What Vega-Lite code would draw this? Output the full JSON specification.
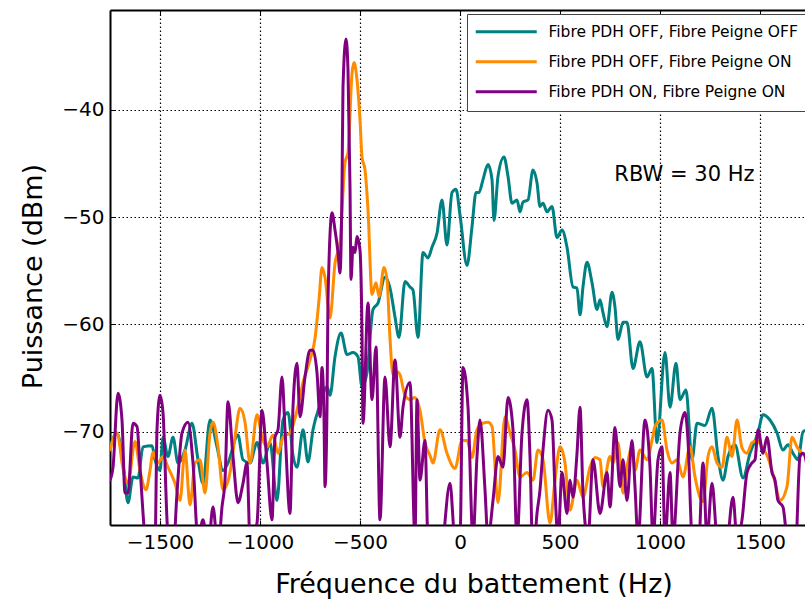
{
"$schema": "https://vega.github.io/schema/vega-lite/v6.json",
"width": 695,
"height": 515,
"autosize": {"type": "none"},
"padding": {"left": 110, "top": 10, "right": 0, "bottom": 77},
"background": "white",
"config": {
  "font": "DejaVu Sans",
  "view": {"stroke": null},
  "axis": {"labelFont": "DejaVu Sans", "titleFont": "DejaVu Sans", "labelColor": "black", "titleColor": "black", "labelFontSize": 20, "titleFontSize": 27, "titleFontWeight": "normal", "domainColor": "black", "domainWidth": 2, "tickColor": "black", "tickWidth": 1, "gridColor": "black", "gridDash": [1.5, 2.5], "gridWidth": 1.2, "gridOpacity": 1}
},
"layer": [
{
  "data": {"values": [
{"series":"Fibre PDH OFF, Fibre Peigne OFF","freq":-1750,"power":-71.4},
{"series":"Fibre PDH OFF, Fibre Peigne OFF","freq":-1715,"power":-70.1},
{"series":"Fibre PDH OFF, Fibre Peigne OFF","freq":-1685,"power":-72.9},
{"series":"Fibre PDH OFF, Fibre Peigne OFF","freq":-1660,"power":-76.6},
{"series":"Fibre PDH OFF, Fibre Peigne OFF","freq":-1635,"power":-74.2},
{"series":"Fibre PDH OFF, Fibre Peigne OFF","freq":-1610,"power":-74.3},
{"series":"Fibre PDH OFF, Fibre Peigne OFF","freq":-1585,"power":-71.4},
{"series":"Fibre PDH OFF, Fibre Peigne OFF","freq":-1540,"power":-71.3},
{"series":"Fibre PDH OFF, Fibre Peigne OFF","freq":-1525,"power":-72.6},
{"series":"Fibre PDH OFF, Fibre Peigne OFF","freq":-1500,"power":-73.6},
{"series":"Fibre PDH OFF, Fibre Peigne OFF","freq":-1485,"power":-70.5},
{"series":"Fibre PDH OFF, Fibre Peigne OFF","freq":-1460,"power":-72.3},
{"series":"Fibre PDH OFF, Fibre Peigne OFF","freq":-1435,"power":-70.5},
{"series":"Fibre PDH OFF, Fibre Peigne OFF","freq":-1410,"power":-72.9},
{"series":"Fibre PDH OFF, Fibre Peigne OFF","freq":-1375,"power":-71.7},
{"series":"Fibre PDH OFF, Fibre Peigne OFF","freq":-1340,"power":-69.2},
{"series":"Fibre PDH OFF, Fibre Peigne OFF","freq":-1310,"power":-72.6},
{"series":"Fibre PDH OFF, Fibre Peigne OFF","freq":-1285,"power":-74.8},
{"series":"Fibre PDH OFF, Fibre Peigne OFF","freq":-1250,"power":-68.9},
{"series":"Fibre PDH OFF, Fibre Peigne OFF","freq":-1215,"power":-71.4},
{"series":"Fibre PDH OFF, Fibre Peigne OFF","freq":-1185,"power":-73.6},
{"series":"Fibre PDH OFF, Fibre Peigne OFF","freq":-1160,"power":-72.9},
{"series":"Fibre PDH OFF, Fibre Peigne OFF","freq":-1110,"power":-70.3},
{"series":"Fibre PDH OFF, Fibre Peigne OFF","freq":-1085,"power":-72.6},
{"series":"Fibre PDH OFF, Fibre Peigne OFF","freq":-1050,"power":-72.9},
{"series":"Fibre PDH OFF, Fibre Peigne OFF","freq":-1015,"power":-71.0},
{"series":"Fibre PDH OFF, Fibre Peigne OFF","freq":-985,"power":-72.9},
{"series":"Fibre PDH OFF, Fibre Peigne OFF","freq":-950,"power":-71.0},
{"series":"Fibre PDH OFF, Fibre Peigne OFF","freq":-915,"power":-76.4},
{"series":"Fibre PDH OFF, Fibre Peigne OFF","freq":-885,"power":-68.9},
{"series":"Fibre PDH OFF, Fibre Peigne OFF","freq":-860,"power":-68.2},
{"series":"Fibre PDH OFF, Fibre Peigne OFF","freq":-835,"power":-72.2},
{"series":"Fibre PDH OFF, Fibre Peigne OFF","freq":-815,"power":-73.3},
{"series":"Fibre PDH OFF, Fibre Peigne OFF","freq":-785,"power":-69.8},
{"series":"Fibre PDH OFF, Fibre Peigne OFF","freq":-760,"power":-72.8},
{"series":"Fibre PDH OFF, Fibre Peigne OFF","freq":-735,"power":-69.8},
{"series":"Fibre PDH OFF, Fibre Peigne OFF","freq":-700,"power":-67.5},
{"series":"Fibre PDH OFF, Fibre Peigne OFF","freq":-665,"power":-65.8},
{"series":"Fibre PDH OFF, Fibre Peigne OFF","freq":-650,"power":-66.6},
{"series":"Fibre PDH OFF, Fibre Peigne OFF","freq":-625,"power":-63.0},
{"series":"Fibre PDH OFF, Fibre Peigne OFF","freq":-595,"power":-60.8},
{"series":"Fibre PDH OFF, Fibre Peigne OFF","freq":-565,"power":-62.8},
{"series":"Fibre PDH OFF, Fibre Peigne OFF","freq":-535,"power":-62.6},
{"series":"Fibre PDH OFF, Fibre Peigne OFF","freq":-510,"power":-63.0},
{"series":"Fibre PDH OFF, Fibre Peigne OFF","freq":-490,"power":-65.8},
{"series":"Fibre PDH OFF, Fibre Peigne OFF","freq":-465,"power":-64.5},
{"series":"Fibre PDH OFF, Fibre Peigne OFF","freq":-435,"power":-58.6},
{"series":"Fibre PDH OFF, Fibre Peigne OFF","freq":-410,"power":-58.0},
{"series":"Fibre PDH OFF, Fibre Peigne OFF","freq":-375,"power":-55.6},
{"series":"Fibre PDH OFF, Fibre Peigne OFF","freq":-350,"power":-56.6},
{"series":"Fibre PDH OFF, Fibre Peigne OFF","freq":-325,"power":-59.3},
{"series":"Fibre PDH OFF, Fibre Peigne OFF","freq":-305,"power":-61.2},
{"series":"Fibre PDH OFF, Fibre Peigne OFF","freq":-275,"power":-56.0},
{"series":"Fibre PDH OFF, Fibre Peigne OFF","freq":-250,"power":-56.5},
{"series":"Fibre PDH OFF, Fibre Peigne OFF","freq":-235,"power":-56.8},
{"series":"Fibre PDH OFF, Fibre Peigne OFF","freq":-210,"power":-61.2},
{"series":"Fibre PDH OFF, Fibre Peigne OFF","freq":-185,"power":-53.3},
{"series":"Fibre PDH OFF, Fibre Peigne OFF","freq":-160,"power":-53.8},
{"series":"Fibre PDH OFF, Fibre Peigne OFF","freq":-140,"power":-52.8},
{"series":"Fibre PDH OFF, Fibre Peigne OFF","freq":-115,"power":-51.5},
{"series":"Fibre PDH OFF, Fibre Peigne OFF","freq":-90,"power":-48.4},
{"series":"Fibre PDH OFF, Fibre Peigne OFF","freq":-65,"power":-52.6},
{"series":"Fibre PDH OFF, Fibre Peigne OFF","freq":-40,"power":-47.7},
{"series":"Fibre PDH OFF, Fibre Peigne OFF","freq":-20,"power":-47.4},
{"series":"Fibre PDH OFF, Fibre Peigne OFF","freq":0,"power":-49.8},
{"series":"Fibre PDH OFF, Fibre Peigne OFF","freq":35,"power":-54.5},
{"series":"Fibre PDH OFF, Fibre Peigne OFF","freq":60,"power":-50.9},
{"series":"Fibre PDH OFF, Fibre Peigne OFF","freq":80,"power":-47.7},
{"series":"Fibre PDH OFF, Fibre Peigne OFF","freq":95,"power":-47.7},
{"series":"Fibre PDH OFF, Fibre Peigne OFF","freq":115,"power":-46.5},
{"series":"Fibre PDH OFF, Fibre Peigne OFF","freq":140,"power":-45.1},
{"series":"Fibre PDH OFF, Fibre Peigne OFF","freq":160,"power":-46.5},
{"series":"Fibre PDH OFF, Fibre Peigne OFF","freq":170,"power":-50.3},
{"series":"Fibre PDH OFF, Fibre Peigne OFF","freq":190,"power":-46.2},
{"series":"Fibre PDH OFF, Fibre Peigne OFF","freq":220,"power":-44.4},
{"series":"Fibre PDH OFF, Fibre Peigne OFF","freq":240,"power":-46.2},
{"series":"Fibre PDH OFF, Fibre Peigne OFF","freq":260,"power":-48.7},
{"series":"Fibre PDH OFF, Fibre Peigne OFF","freq":285,"power":-48.4},
{"series":"Fibre PDH OFF, Fibre Peigne OFF","freq":300,"power":-49.5},
{"series":"Fibre PDH OFF, Fibre Peigne OFF","freq":315,"power":-48.6},
{"series":"Fibre PDH OFF, Fibre Peigne OFF","freq":340,"power":-48.4},
{"series":"Fibre PDH OFF, Fibre Peigne OFF","freq":365,"power":-45.6},
{"series":"Fibre PDH OFF, Fibre Peigne OFF","freq":385,"power":-46.8},
{"series":"Fibre PDH OFF, Fibre Peigne OFF","freq":400,"power":-49.0},
{"series":"Fibre PDH OFF, Fibre Peigne OFF","freq":415,"power":-48.7},
{"series":"Fibre PDH OFF, Fibre Peigne OFF","freq":435,"power":-49.5},
{"series":"Fibre PDH OFF, Fibre Peigne OFF","freq":460,"power":-49.0},
{"series":"Fibre PDH OFF, Fibre Peigne OFF","freq":485,"power":-51.9},
{"series":"Fibre PDH OFF, Fibre Peigne OFF","freq":510,"power":-51.2},
{"series":"Fibre PDH OFF, Fibre Peigne OFF","freq":535,"power":-52.8},
{"series":"Fibre PDH OFF, Fibre Peigne OFF","freq":565,"power":-56.5},
{"series":"Fibre PDH OFF, Fibre Peigne OFF","freq":585,"power":-56.6},
{"series":"Fibre PDH OFF, Fibre Peigne OFF","freq":600,"power":-59.1},
{"series":"Fibre PDH OFF, Fibre Peigne OFF","freq":615,"power":-56.5},
{"series":"Fibre PDH OFF, Fibre Peigne OFF","freq":635,"power":-54.2},
{"series":"Fibre PDH OFF, Fibre Peigne OFF","freq":660,"power":-56.1},
{"series":"Fibre PDH OFF, Fibre Peigne OFF","freq":685,"power":-58.6},
{"series":"Fibre PDH OFF, Fibre Peigne OFF","freq":700,"power":-57.7},
{"series":"Fibre PDH OFF, Fibre Peigne OFF","freq":715,"power":-58.9},
{"series":"Fibre PDH OFF, Fibre Peigne OFF","freq":735,"power":-60.2},
{"series":"Fibre PDH OFF, Fibre Peigne OFF","freq":760,"power":-57.0},
{"series":"Fibre PDH OFF, Fibre Peigne OFF","freq":775,"power":-58.4},
{"series":"Fibre PDH OFF, Fibre Peigne OFF","freq":790,"power":-61.4},
{"series":"Fibre PDH OFF, Fibre Peigne OFF","freq":815,"power":-59.8},
{"series":"Fibre PDH OFF, Fibre Peigne OFF","freq":835,"power":-59.8},
{"series":"Fibre PDH OFF, Fibre Peigne OFF","freq":865,"power":-64.1},
{"series":"Fibre PDH OFF, Fibre Peigne OFF","freq":900,"power":-61.6},
{"series":"Fibre PDH OFF, Fibre Peigne OFF","freq":935,"power":-64.9},
{"series":"Fibre PDH OFF, Fibre Peigne OFF","freq":960,"power":-64.1},
{"series":"Fibre PDH OFF, Fibre Peigne OFF","freq":985,"power":-71.0},
{"series":"Fibre PDH OFF, Fibre Peigne OFF","freq":1025,"power":-62.6},
{"series":"Fibre PDH OFF, Fibre Peigne OFF","freq":1050,"power":-67.7},
{"series":"Fibre PDH OFF, Fibre Peigne OFF","freq":1080,"power":-63.6},
{"series":"Fibre PDH OFF, Fibre Peigne OFF","freq":1100,"power":-67.0},
{"series":"Fibre PDH OFF, Fibre Peigne OFF","freq":1130,"power":-66.1},
{"series":"Fibre PDH OFF, Fibre Peigne OFF","freq":1160,"power":-72.6},
{"series":"Fibre PDH OFF, Fibre Peigne OFF","freq":1185,"power":-69.2},
{"series":"Fibre PDH OFF, Fibre Peigne OFF","freq":1225,"power":-69.4},
{"series":"Fibre PDH OFF, Fibre Peigne OFF","freq":1260,"power":-67.8},
{"series":"Fibre PDH OFF, Fibre Peigne OFF","freq":1290,"power":-72.3},
{"series":"Fibre PDH OFF, Fibre Peigne OFF","freq":1315,"power":-74.5},
{"series":"Fibre PDH OFF, Fibre Peigne OFF","freq":1340,"power":-72.3},
{"series":"Fibre PDH OFF, Fibre Peigne OFF","freq":1375,"power":-71.2},
{"series":"Fibre PDH OFF, Fibre Peigne OFF","freq":1415,"power":-74.3},
{"series":"Fibre PDH OFF, Fibre Peigne OFF","freq":1450,"power":-72.0},
{"series":"Fibre PDH OFF, Fibre Peigne OFF","freq":1490,"power":-70.1},
{"series":"Fibre PDH OFF, Fibre Peigne OFF","freq":1515,"power":-68.4},
{"series":"Fibre PDH OFF, Fibre Peigne OFF","freq":1550,"power":-68.9},
{"series":"Fibre PDH OFF, Fibre Peigne OFF","freq":1585,"power":-70.1},
{"series":"Fibre PDH OFF, Fibre Peigne OFF","freq":1615,"power":-71.7},
{"series":"Fibre PDH OFF, Fibre Peigne OFF","freq":1640,"power":-71.2},
{"series":"Fibre PDH OFF, Fibre Peigne OFF","freq":1665,"power":-72.0},
{"series":"Fibre PDH OFF, Fibre Peigne OFF","freq":1690,"power":-72.6},
{"series":"Fibre PDH OFF, Fibre Peigne OFF","freq":1715,"power":-70.0},
{"series":"Fibre PDH OFF, Fibre Peigne OFF","freq":1740,"power":-69.8},
{"series":"Fibre PDH OFF, Fibre Peigne ON","freq":-1750,"power":-71.7},
{"series":"Fibre PDH OFF, Fibre Peigne ON","freq":-1715,"power":-70.1},
{"series":"Fibre PDH OFF, Fibre Peigne ON","freq":-1685,"power":-73.4},
{"series":"Fibre PDH OFF, Fibre Peigne ON","freq":-1660,"power":-74.8},
{"series":"Fibre PDH OFF, Fibre Peigne ON","freq":-1625,"power":-70.9},
{"series":"Fibre PDH OFF, Fibre Peigne ON","freq":-1600,"power":-73.6},
{"series":"Fibre PDH OFF, Fibre Peigne ON","freq":-1570,"power":-75.4},
{"series":"Fibre PDH OFF, Fibre Peigne ON","freq":-1550,"power":-73.6},
{"series":"Fibre PDH OFF, Fibre Peigne ON","freq":-1535,"power":-71.9},
{"series":"Fibre PDH OFF, Fibre Peigne ON","freq":-1510,"power":-72.9},
{"series":"Fibre PDH OFF, Fibre Peigne ON","freq":-1485,"power":-72.3},
{"series":"Fibre PDH OFF, Fibre Peigne ON","freq":-1460,"power":-73.3},
{"series":"Fibre PDH OFF, Fibre Peigne ON","freq":-1425,"power":-74.8},
{"series":"Fibre PDH OFF, Fibre Peigne ON","freq":-1400,"power":-76.4},
{"series":"Fibre PDH OFF, Fibre Peigne ON","freq":-1375,"power":-71.7},
{"series":"Fibre PDH OFF, Fibre Peigne ON","freq":-1350,"power":-76.8},
{"series":"Fibre PDH OFF, Fibre Peigne ON","freq":-1325,"power":-72.9},
{"series":"Fibre PDH OFF, Fibre Peigne ON","freq":-1300,"power":-72.6},
{"series":"Fibre PDH OFF, Fibre Peigne ON","freq":-1275,"power":-75.7},
{"series":"Fibre PDH OFF, Fibre Peigne ON","freq":-1250,"power":-70.1},
{"series":"Fibre PDH OFF, Fibre Peigne ON","freq":-1235,"power":-69.1},
{"series":"Fibre PDH OFF, Fibre Peigne ON","freq":-1210,"power":-71.4},
{"series":"Fibre PDH OFF, Fibre Peigne ON","freq":-1185,"power":-75.4},
{"series":"Fibre PDH OFF, Fibre Peigne ON","freq":-1150,"power":-73.8},
{"series":"Fibre PDH OFF, Fibre Peigne ON","freq":-1125,"power":-70.5},
{"series":"Fibre PDH OFF, Fibre Peigne ON","freq":-1100,"power":-67.8},
{"series":"Fibre PDH OFF, Fibre Peigne ON","freq":-1075,"power":-69.1},
{"series":"Fibre PDH OFF, Fibre Peigne ON","freq":-1050,"power":-72.9},
{"series":"Fibre PDH OFF, Fibre Peigne ON","freq":-1015,"power":-68.4},
{"series":"Fibre PDH OFF, Fibre Peigne ON","freq":-990,"power":-70.5},
{"series":"Fibre PDH OFF, Fibre Peigne ON","freq":-965,"power":-71.4},
{"series":"Fibre PDH OFF, Fibre Peigne ON","freq":-935,"power":-70.3},
{"series":"Fibre PDH OFF, Fibre Peigne ON","freq":-910,"power":-72.0},
{"series":"Fibre PDH OFF, Fibre Peigne ON","freq":-885,"power":-70.5},
{"series":"Fibre PDH OFF, Fibre Peigne ON","freq":-850,"power":-70.1},
{"series":"Fibre PDH OFF, Fibre Peigne ON","freq":-815,"power":-68.0},
{"series":"Fibre PDH OFF, Fibre Peigne ON","freq":-785,"power":-65.4},
{"series":"Fibre PDH OFF, Fibre Peigne ON","freq":-750,"power":-63.3},
{"series":"Fibre PDH OFF, Fibre Peigne ON","freq":-725,"power":-61.3},
{"series":"Fibre PDH OFF, Fibre Peigne ON","freq":-705,"power":-57.7},
{"series":"Fibre PDH OFF, Fibre Peigne ON","freq":-690,"power":-54.7},
{"series":"Fibre PDH OFF, Fibre Peigne ON","freq":-675,"power":-55.6},
{"series":"Fibre PDH OFF, Fibre Peigne ON","freq":-650,"power":-59.4},
{"series":"Fibre PDH OFF, Fibre Peigne ON","freq":-625,"power":-54.3},
{"series":"Fibre PDH OFF, Fibre Peigne ON","freq":-600,"power":-52.4},
{"series":"Fibre PDH OFF, Fibre Peigne ON","freq":-575,"power":-44.9},
{"series":"Fibre PDH OFF, Fibre Peigne ON","freq":-560,"power":-44.0},
{"series":"Fibre PDH OFF, Fibre Peigne ON","freq":-540,"power":-36.6},
{"series":"Fibre PDH OFF, Fibre Peigne ON","freq":-530,"power":-35.6},
{"series":"Fibre PDH OFF, Fibre Peigne ON","freq":-515,"power":-37.2},
{"series":"Fibre PDH OFF, Fibre Peigne ON","freq":-500,"power":-40.9},
{"series":"Fibre PDH OFF, Fibre Peigne ON","freq":-490,"power":-44.4},
{"series":"Fibre PDH OFF, Fibre Peigne ON","freq":-475,"power":-45.6},
{"series":"Fibre PDH OFF, Fibre Peigne ON","freq":-460,"power":-49.3},
{"series":"Fibre PDH OFF, Fibre Peigne ON","freq":-440,"power":-57.2},
{"series":"Fibre PDH OFF, Fibre Peigne ON","freq":-420,"power":-56.1},
{"series":"Fibre PDH OFF, Fibre Peigne ON","freq":-405,"power":-57.4},
{"series":"Fibre PDH OFF, Fibre Peigne ON","freq":-380,"power":-54.7},
{"series":"Fibre PDH OFF, Fibre Peigne ON","freq":-365,"power":-55.8},
{"series":"Fibre PDH OFF, Fibre Peigne ON","freq":-350,"power":-61.3},
{"series":"Fibre PDH OFF, Fibre Peigne ON","freq":-335,"power":-64.7},
{"series":"Fibre PDH OFF, Fibre Peigne ON","freq":-315,"power":-64.4},
{"series":"Fibre PDH OFF, Fibre Peigne ON","freq":-300,"power":-64.7},
{"series":"Fibre PDH OFF, Fibre Peigne ON","freq":-275,"power":-66.6},
{"series":"Fibre PDH OFF, Fibre Peigne ON","freq":-250,"power":-67.0},
{"series":"Fibre PDH OFF, Fibre Peigne ON","freq":-225,"power":-66.8},
{"series":"Fibre PDH OFF, Fibre Peigne ON","freq":-200,"power":-68.0},
{"series":"Fibre PDH OFF, Fibre Peigne ON","freq":-175,"power":-71.0},
{"series":"Fibre PDH OFF, Fibre Peigne ON","freq":-150,"power":-72.2},
{"series":"Fibre PDH OFF, Fibre Peigne ON","freq":-135,"power":-72.9},
{"series":"Fibre PDH OFF, Fibre Peigne ON","freq":-100,"power":-69.8},
{"series":"Fibre PDH OFF, Fibre Peigne ON","freq":-65,"power":-72.0},
{"series":"Fibre PDH OFF, Fibre Peigne ON","freq":-25,"power":-73.4},
{"series":"Fibre PDH OFF, Fibre Peigne ON","freq":10,"power":-70.8},
{"series":"Fibre PDH OFF, Fibre Peigne ON","freq":35,"power":-70.8},
{"series":"Fibre PDH OFF, Fibre Peigne ON","freq":60,"power":-72.4},
{"series":"Fibre PDH OFF, Fibre Peigne ON","freq":85,"power":-69.8},
{"series":"Fibre PDH OFF, Fibre Peigne ON","freq":115,"power":-69.2},
{"series":"Fibre PDH OFF, Fibre Peigne ON","freq":140,"power":-69.1},
{"series":"Fibre PDH OFF, Fibre Peigne ON","freq":160,"power":-69.5},
{"series":"Fibre PDH OFF, Fibre Peigne ON","freq":190,"power":-76.6},
{"series":"Fibre PDH OFF, Fibre Peigne ON","freq":225,"power":-68.6},
{"series":"Fibre PDH OFF, Fibre Peigne ON","freq":250,"power":-70.1},
{"series":"Fibre PDH OFF, Fibre Peigne ON","freq":275,"power":-71.7},
{"series":"Fibre PDH OFF, Fibre Peigne ON","freq":300,"power":-74.2},
{"series":"Fibre PDH OFF, Fibre Peigne ON","freq":335,"power":-73.8},
{"series":"Fibre PDH OFF, Fibre Peigne ON","freq":365,"power":-74.5},
{"series":"Fibre PDH OFF, Fibre Peigne ON","freq":390,"power":-71.7},
{"series":"Fibre PDH OFF, Fibre Peigne ON","freq":415,"power":-72.6},
{"series":"Fibre PDH OFF, Fibre Peigne ON","freq":450,"power":-78.5},
{"series":"Fibre PDH OFF, Fibre Peigne ON","freq":475,"power":-74.5},
{"series":"Fibre PDH OFF, Fibre Peigne ON","freq":500,"power":-71.4},
{"series":"Fibre PDH OFF, Fibre Peigne ON","freq":525,"power":-72.9},
{"series":"Fibre PDH OFF, Fibre Peigne ON","freq":550,"power":-77.3},
{"series":"Fibre PDH OFF, Fibre Peigne ON","freq":585,"power":-74.5},
{"series":"Fibre PDH OFF, Fibre Peigne ON","freq":615,"power":-76.1},
{"series":"Fibre PDH OFF, Fibre Peigne ON","freq":650,"power":-73.3},
{"series":"Fibre PDH OFF, Fibre Peigne ON","freq":675,"power":-72.4},
{"series":"Fibre PDH OFF, Fibre Peigne ON","freq":700,"power":-72.6},
{"series":"Fibre PDH OFF, Fibre Peigne ON","freq":715,"power":-75.1},
{"series":"Fibre PDH OFF, Fibre Peigne ON","freq":750,"power":-72.3},
{"series":"Fibre PDH OFF, Fibre Peigne ON","freq":765,"power":-72.9},
{"series":"Fibre PDH OFF, Fibre Peigne ON","freq":790,"power":-71.0},
{"series":"Fibre PDH OFF, Fibre Peigne ON","freq":815,"power":-75.7},
{"series":"Fibre PDH OFF, Fibre Peigne ON","freq":835,"power":-73.3},
{"series":"Fibre PDH OFF, Fibre Peigne ON","freq":860,"power":-71.4},
{"series":"Fibre PDH OFF, Fibre Peigne ON","freq":875,"power":-73.6},
{"series":"Fibre PDH OFF, Fibre Peigne ON","freq":900,"power":-71.7},
{"series":"Fibre PDH OFF, Fibre Peigne ON","freq":935,"power":-72.6},
{"series":"Fibre PDH OFF, Fibre Peigne ON","freq":960,"power":-70.8},
{"series":"Fibre PDH OFF, Fibre Peigne ON","freq":975,"power":-69.5},
{"series":"Fibre PDH OFF, Fibre Peigne ON","freq":1010,"power":-68.9},
{"series":"Fibre PDH OFF, Fibre Peigne ON","freq":1035,"power":-71.7},
{"series":"Fibre PDH OFF, Fibre Peigne ON","freq":1060,"power":-72.9},
{"series":"Fibre PDH OFF, Fibre Peigne ON","freq":1085,"power":-72.6},
{"series":"Fibre PDH OFF, Fibre Peigne ON","freq":1115,"power":-74.2},
{"series":"Fibre PDH OFF, Fibre Peigne ON","freq":1150,"power":-71.4},
{"series":"Fibre PDH OFF, Fibre Peigne ON","freq":1175,"power":-74.2},
{"series":"Fibre PDH OFF, Fibre Peigne ON","freq":1200,"power":-76.1},
{"series":"Fibre PDH OFF, Fibre Peigne ON","freq":1215,"power":-76.5},
{"series":"Fibre PDH OFF, Fibre Peigne ON","freq":1240,"power":-72.3},
{"series":"Fibre PDH OFF, Fibre Peigne ON","freq":1260,"power":-71.4},
{"series":"Fibre PDH OFF, Fibre Peigne ON","freq":1285,"power":-72.9},
{"series":"Fibre PDH OFF, Fibre Peigne ON","freq":1310,"power":-73.3},
{"series":"Fibre PDH OFF, Fibre Peigne ON","freq":1335,"power":-70.5},
{"series":"Fibre PDH OFF, Fibre Peigne ON","freq":1360,"power":-72.3},
{"series":"Fibre PDH OFF, Fibre Peigne ON","freq":1385,"power":-68.9},
{"series":"Fibre PDH OFF, Fibre Peigne ON","freq":1410,"power":-71.5},
{"series":"Fibre PDH OFF, Fibre Peigne ON","freq":1435,"power":-72.0},
{"series":"Fibre PDH OFF, Fibre Peigne ON","freq":1460,"power":-71.0},
{"series":"Fibre PDH OFF, Fibre Peigne ON","freq":1485,"power":-70.8},
{"series":"Fibre PDH OFF, Fibre Peigne ON","freq":1510,"power":-71.4},
{"series":"Fibre PDH OFF, Fibre Peigne ON","freq":1540,"power":-72.4},
{"series":"Fibre PDH OFF, Fibre Peigne ON","freq":1575,"power":-74.7},
{"series":"Fibre PDH OFF, Fibre Peigne ON","freq":1600,"power":-76.4},
{"series":"Fibre PDH OFF, Fibre Peigne ON","freq":1635,"power":-75.1},
{"series":"Fibre PDH OFF, Fibre Peigne ON","freq":1660,"power":-70.5},
{"series":"Fibre PDH OFF, Fibre Peigne ON","freq":1685,"power":-71.4},
{"series":"Fibre PDH OFF, Fibre Peigne ON","freq":1710,"power":-72.0},
{"series":"Fibre PDH OFF, Fibre Peigne ON","freq":1740,"power":-72.3},
{"series":"Fibre PDH ON, Fibre Peigne ON","freq":-1750,"power":-74.5},
{"series":"Fibre PDH ON, Fibre Peigne ON","freq":-1735,"power":-73.3},
{"series":"Fibre PDH ON, Fibre Peigne ON","freq":-1710,"power":-66.4},
{"series":"Fibre PDH ON, Fibre Peigne ON","freq":-1690,"power":-68.9},
{"series":"Fibre PDH ON, Fibre Peigne ON","freq":-1675,"power":-75.7},
{"series":"Fibre PDH ON, Fibre Peigne ON","freq":-1660,"power":-75.7},
{"series":"Fibre PDH ON, Fibre Peigne ON","freq":-1635,"power":-69.2},
{"series":"Fibre PDH ON, Fibre Peigne ON","freq":-1615,"power":-69.5},
{"series":"Fibre PDH ON, Fibre Peigne ON","freq":-1600,"power":-73.3},
{"series":"Fibre PDH ON, Fibre Peigne ON","freq":-1575,"power":-80},
{"series":"Fibre PDH ON, Fibre Peigne ON","freq":-1550,"power":-83},
{"series":"Fibre PDH ON, Fibre Peigne ON","freq":-1525,"power":-81},
{"series":"Fibre PDH ON, Fibre Peigne ON","freq":-1515,"power":-69.8},
{"series":"Fibre PDH ON, Fibre Peigne ON","freq":-1500,"power":-66.6},
{"series":"Fibre PDH ON, Fibre Peigne ON","freq":-1485,"power":-68.2},
{"series":"Fibre PDH ON, Fibre Peigne ON","freq":-1465,"power":-78.2},
{"series":"Fibre PDH ON, Fibre Peigne ON","freq":-1440,"power":-83},
{"series":"Fibre PDH ON, Fibre Peigne ON","freq":-1415,"power":-75.7},
{"series":"Fibre PDH ON, Fibre Peigne ON","freq":-1390,"power":-70.1},
{"series":"Fibre PDH ON, Fibre Peigne ON","freq":-1360,"power":-69.1},
{"series":"Fibre PDH ON, Fibre Peigne ON","freq":-1335,"power":-72.9},
{"series":"Fibre PDH ON, Fibre Peigne ON","freq":-1310,"power":-80},
{"series":"Fibre PDH ON, Fibre Peigne ON","freq":-1285,"power":-78.2},
{"series":"Fibre PDH ON, Fibre Peigne ON","freq":-1260,"power":-81},
{"series":"Fibre PDH ON, Fibre Peigne ON","freq":-1235,"power":-77.0},
{"series":"Fibre PDH ON, Fibre Peigne ON","freq":-1210,"power":-81},
{"series":"Fibre PDH ON, Fibre Peigne ON","freq":-1190,"power":-77.0},
{"series":"Fibre PDH ON, Fibre Peigne ON","freq":-1175,"power":-74.5},
{"series":"Fibre PDH ON, Fibre Peigne ON","freq":-1160,"power":-67.2},
{"series":"Fibre PDH ON, Fibre Peigne ON","freq":-1135,"power":-72.3},
{"series":"Fibre PDH ON, Fibre Peigne ON","freq":-1110,"power":-76.6},
{"series":"Fibre PDH ON, Fibre Peigne ON","freq":-1085,"power":-74.8},
{"series":"Fibre PDH ON, Fibre Peigne ON","freq":-1065,"power":-72.9},
{"series":"Fibre PDH ON, Fibre Peigne ON","freq":-1050,"power":-80},
{"series":"Fibre PDH ON, Fibre Peigne ON","freq":-1015,"power":-78.5},
{"series":"Fibre PDH ON, Fibre Peigne ON","freq":-990,"power":-68.0},
{"series":"Fibre PDH ON, Fibre Peigne ON","freq":-965,"power":-72.9},
{"series":"Fibre PDH ON, Fibre Peigne ON","freq":-940,"power":-78.2},
{"series":"Fibre PDH ON, Fibre Peigne ON","freq":-925,"power":-70.5},
{"series":"Fibre PDH ON, Fibre Peigne ON","freq":-910,"power":-69.8},
{"series":"Fibre PDH ON, Fibre Peigne ON","freq":-890,"power":-64.9},
{"series":"Fibre PDH ON, Fibre Peigne ON","freq":-875,"power":-69.8},
{"series":"Fibre PDH ON, Fibre Peigne ON","freq":-850,"power":-77.6},
{"series":"Fibre PDH ON, Fibre Peigne ON","freq":-835,"power":-67.7},
{"series":"Fibre PDH ON, Fibre Peigne ON","freq":-815,"power":-63.6},
{"series":"Fibre PDH ON, Fibre Peigne ON","freq":-800,"power":-68.6},
{"series":"Fibre PDH ON, Fibre Peigne ON","freq":-775,"power":-64.9},
{"series":"Fibre PDH ON, Fibre Peigne ON","freq":-750,"power":-62.4},
{"series":"Fibre PDH ON, Fibre Peigne ON","freq":-735,"power":-62.4},
{"series":"Fibre PDH ON, Fibre Peigne ON","freq":-715,"power":-64.5},
{"series":"Fibre PDH ON, Fibre Peigne ON","freq":-700,"power":-68.6},
{"series":"Fibre PDH ON, Fibre Peigne ON","freq":-690,"power":-64.0},
{"series":"Fibre PDH ON, Fibre Peigne ON","freq":-680,"power":-68.6},
{"series":"Fibre PDH ON, Fibre Peigne ON","freq":-675,"power":-75.1},
{"series":"Fibre PDH ON, Fibre Peigne ON","freq":-665,"power":-67.7},
{"series":"Fibre PDH ON, Fibre Peigne ON","freq":-660,"power":-57.7},
{"series":"Fibre PDH ON, Fibre Peigne ON","freq":-640,"power":-49.6},
{"series":"Fibre PDH ON, Fibre Peigne ON","freq":-625,"power":-51.2},
{"series":"Fibre PDH ON, Fibre Peigne ON","freq":-610,"power":-53.3},
{"series":"Fibre PDH ON, Fibre Peigne ON","freq":-600,"power":-55.2},
{"series":"Fibre PDH ON, Fibre Peigne ON","freq":-590,"power":-47.2},
{"series":"Fibre PDH ON, Fibre Peigne ON","freq":-585,"power":-37.9},
{"series":"Fibre PDH ON, Fibre Peigne ON","freq":-570,"power":-33.4},
{"series":"Fibre PDH ON, Fibre Peigne ON","freq":-560,"power":-36.3},
{"series":"Fibre PDH ON, Fibre Peigne ON","freq":-550,"power":-47.2},
{"series":"Fibre PDH ON, Fibre Peigne ON","freq":-545,"power":-55.8},
{"series":"Fibre PDH ON, Fibre Peigne ON","freq":-535,"power":-52.8},
{"series":"Fibre PDH ON, Fibre Peigne ON","freq":-525,"power":-53.3},
{"series":"Fibre PDH ON, Fibre Peigne ON","freq":-515,"power":-51.8},
{"series":"Fibre PDH ON, Fibre Peigne ON","freq":-500,"power":-53.1},
{"series":"Fibre PDH ON, Fibre Peigne ON","freq":-490,"power":-60.8},
{"series":"Fibre PDH ON, Fibre Peigne ON","freq":-485,"power":-69.2},
{"series":"Fibre PDH ON, Fibre Peigne ON","freq":-460,"power":-58.0},
{"series":"Fibre PDH ON, Fibre Peigne ON","freq":-440,"power":-67.0},
{"series":"Fibre PDH ON, Fibre Peigne ON","freq":-420,"power":-62.1},
{"series":"Fibre PDH ON, Fibre Peigne ON","freq":-400,"power":-78.2},
{"series":"Fibre PDH ON, Fibre Peigne ON","freq":-375,"power":-64.9},
{"series":"Fibre PDH ON, Fibre Peigne ON","freq":-350,"power":-71.4},
{"series":"Fibre PDH ON, Fibre Peigne ON","freq":-325,"power":-63.3},
{"series":"Fibre PDH ON, Fibre Peigne ON","freq":-300,"power":-70.5},
{"series":"Fibre PDH ON, Fibre Peigne ON","freq":-285,"power":-67.7},
{"series":"Fibre PDH ON, Fibre Peigne ON","freq":-250,"power":-65.4},
{"series":"Fibre PDH ON, Fibre Peigne ON","freq":-225,"power":-80},
{"series":"Fibre PDH ON, Fibre Peigne ON","freq":-215,"power":-67.0},
{"series":"Fibre PDH ON, Fibre Peigne ON","freq":-200,"power":-74.5},
{"series":"Fibre PDH ON, Fibre Peigne ON","freq":-175,"power":-70.8},
{"series":"Fibre PDH ON, Fibre Peigne ON","freq":-160,"power":-80},
{"series":"Fibre PDH ON, Fibre Peigne ON","freq":-125,"power":-80},
{"series":"Fibre PDH ON, Fibre Peigne ON","freq":-100,"power":-82},
{"series":"Fibre PDH ON, Fibre Peigne ON","freq":-50,"power":-74.8},
{"series":"Fibre PDH ON, Fibre Peigne ON","freq":-25,"power":-80},
{"series":"Fibre PDH ON, Fibre Peigne ON","freq":0,"power":-80},
{"series":"Fibre PDH ON, Fibre Peigne ON","freq":15,"power":-64.0},
{"series":"Fibre PDH ON, Fibre Peigne ON","freq":40,"power":-67.7},
{"series":"Fibre PDH ON, Fibre Peigne ON","freq":65,"power":-80},
{"series":"Fibre PDH ON, Fibre Peigne ON","freq":85,"power":-72.3},
{"series":"Fibre PDH ON, Fibre Peigne ON","freq":100,"power":-68.9},
{"series":"Fibre PDH ON, Fibre Peigne ON","freq":125,"power":-75.4},
{"series":"Fibre PDH ON, Fibre Peigne ON","freq":140,"power":-80},
{"series":"Fibre PDH ON, Fibre Peigne ON","freq":165,"power":-76.4},
{"series":"Fibre PDH ON, Fibre Peigne ON","freq":190,"power":-72.3},
{"series":"Fibre PDH ON, Fibre Peigne ON","freq":215,"power":-73.3},
{"series":"Fibre PDH ON, Fibre Peigne ON","freq":240,"power":-66.8},
{"series":"Fibre PDH ON, Fibre Peigne ON","freq":265,"power":-69.8},
{"series":"Fibre PDH ON, Fibre Peigne ON","freq":285,"power":-80},
{"series":"Fibre PDH ON, Fibre Peigne ON","freq":310,"power":-70.1},
{"series":"Fibre PDH ON, Fibre Peigne ON","freq":335,"power":-67.0},
{"series":"Fibre PDH ON, Fibre Peigne ON","freq":350,"power":-72.3},
{"series":"Fibre PDH ON, Fibre Peigne ON","freq":365,"power":-82},
{"series":"Fibre PDH ON, Fibre Peigne ON","freq":385,"power":-77.6},
{"series":"Fibre PDH ON, Fibre Peigne ON","freq":400,"power":-75.4},
{"series":"Fibre PDH ON, Fibre Peigne ON","freq":415,"power":-71.7},
{"series":"Fibre PDH ON, Fibre Peigne ON","freq":440,"power":-68.0},
{"series":"Fibre PDH ON, Fibre Peigne ON","freq":460,"power":-68.9},
{"series":"Fibre PDH ON, Fibre Peigne ON","freq":475,"power":-75.4},
{"series":"Fibre PDH ON, Fibre Peigne ON","freq":490,"power":-80},
{"series":"Fibre PDH ON, Fibre Peigne ON","freq":510,"power":-73.8},
{"series":"Fibre PDH ON, Fibre Peigne ON","freq":535,"power":-77.6},
{"series":"Fibre PDH ON, Fibre Peigne ON","freq":550,"power":-74.5},
{"series":"Fibre PDH ON, Fibre Peigne ON","freq":565,"power":-76.1},
{"series":"Fibre PDH ON, Fibre Peigne ON","freq":585,"power":-72.0},
{"series":"Fibre PDH ON, Fibre Peigne ON","freq":600,"power":-67.7},
{"series":"Fibre PDH ON, Fibre Peigne ON","freq":615,"power":-75.7},
{"series":"Fibre PDH ON, Fibre Peigne ON","freq":640,"power":-80},
{"series":"Fibre PDH ON, Fibre Peigne ON","freq":665,"power":-72.6},
{"series":"Fibre PDH ON, Fibre Peigne ON","freq":700,"power":-77.6},
{"series":"Fibre PDH ON, Fibre Peigne ON","freq":735,"power":-73.8},
{"series":"Fibre PDH ON, Fibre Peigne ON","freq":750,"power":-77.0},
{"series":"Fibre PDH ON, Fibre Peigne ON","freq":775,"power":-69.6},
{"series":"Fibre PDH ON, Fibre Peigne ON","freq":800,"power":-75.1},
{"series":"Fibre PDH ON, Fibre Peigne ON","freq":815,"power":-72.6},
{"series":"Fibre PDH ON, Fibre Peigne ON","freq":835,"power":-76.4},
{"series":"Fibre PDH ON, Fibre Peigne ON","freq":860,"power":-70.8},
{"series":"Fibre PDH ON, Fibre Peigne ON","freq":875,"power":-75.1},
{"series":"Fibre PDH ON, Fibre Peigne ON","freq":890,"power":-80},
{"series":"Fibre PDH ON, Fibre Peigne ON","freq":925,"power":-68.9},
{"series":"Fibre PDH ON, Fibre Peigne ON","freq":950,"power":-73.3},
{"series":"Fibre PDH ON, Fibre Peigne ON","freq":965,"power":-80},
{"series":"Fibre PDH ON, Fibre Peigne ON","freq":990,"power":-72.6},
{"series":"Fibre PDH ON, Fibre Peigne ON","freq":1010,"power":-71.4},
{"series":"Fibre PDH ON, Fibre Peigne ON","freq":1025,"power":-80},
{"series":"Fibre PDH ON, Fibre Peigne ON","freq":1050,"power":-73.8},
{"series":"Fibre PDH ON, Fibre Peigne ON","freq":1065,"power":-80},
{"series":"Fibre PDH ON, Fibre Peigne ON","freq":1100,"power":-70.1},
{"series":"Fibre PDH ON, Fibre Peigne ON","freq":1125,"power":-68.2},
{"series":"Fibre PDH ON, Fibre Peigne ON","freq":1140,"power":-70.8},
{"series":"Fibre PDH ON, Fibre Peigne ON","freq":1160,"power":-80},
{"series":"Fibre PDH ON, Fibre Peigne ON","freq":1190,"power":-82},
{"series":"Fibre PDH ON, Fibre Peigne ON","freq":1215,"power":-72.9},
{"series":"Fibre PDH ON, Fibre Peigne ON","freq":1235,"power":-80},
{"series":"Fibre PDH ON, Fibre Peigne ON","freq":1260,"power":-74.8},
{"series":"Fibre PDH ON, Fibre Peigne ON","freq":1285,"power":-80},
{"series":"Fibre PDH ON, Fibre Peigne ON","freq":1325,"power":-82},
{"series":"Fibre PDH ON, Fibre Peigne ON","freq":1365,"power":-76.1},
{"series":"Fibre PDH ON, Fibre Peigne ON","freq":1385,"power":-80},
{"series":"Fibre PDH ON, Fibre Peigne ON","freq":1410,"power":-78.2},
{"series":"Fibre PDH ON, Fibre Peigne ON","freq":1435,"power":-73.8},
{"series":"Fibre PDH ON, Fibre Peigne ON","freq":1460,"power":-72.9},
{"series":"Fibre PDH ON, Fibre Peigne ON","freq":1475,"power":-72.6},
{"series":"Fibre PDH ON, Fibre Peigne ON","freq":1490,"power":-69.8},
{"series":"Fibre PDH ON, Fibre Peigne ON","freq":1515,"power":-72.0},
{"series":"Fibre PDH ON, Fibre Peigne ON","freq":1535,"power":-70.5},
{"series":"Fibre PDH ON, Fibre Peigne ON","freq":1560,"power":-73.8},
{"series":"Fibre PDH ON, Fibre Peigne ON","freq":1575,"power":-74.5},
{"series":"Fibre PDH ON, Fibre Peigne ON","freq":1590,"power":-76.4},
{"series":"Fibre PDH ON, Fibre Peigne ON","freq":1615,"power":-77.0},
{"series":"Fibre PDH ON, Fibre Peigne ON","freq":1635,"power":-80},
{"series":"Fibre PDH ON, Fibre Peigne ON","freq":1675,"power":-82},
{"series":"Fibre PDH ON, Fibre Peigne ON","freq":1700,"power":-72.3},
{"series":"Fibre PDH ON, Fibre Peigne ON","freq":1715,"power":-72.0},
{"series":"Fibre PDH ON, Fibre Peigne ON","freq":1740,"power":-73.6}
  ]},
  "mark": {"type": "line", "strokeWidth": 3, "clip": true, "interpolate": "monotone", "strokeJoin": "round", "strokeCap": "round"},
  "encoding": {
    "x": {"field": "freq", "type": "quantitative",
      "scale": {"domain": [-1750, 1725], "nice": false, "zero": false},
      "axis": {"orient": "bottom", "values": [-1500, -1000, -500, 0, 500, 1000, 1500], "format": "d", "title": "Fréquence du battement (Hz)", "grid": true, "domain": true, "ticks": true, "tickSize": -5, "labelPadding": 12, "titlePadding": 19, "titleX": 363.5}},
    "y": {"field": "power", "type": "quantitative",
      "scale": {"domain": [-78.68, -30.7], "nice": false, "zero": false},
      "axis": {"values": [-70, -60, -50, -40], "title": "Puissance (dBm)", "grid": true, "domain": true, "ticks": true, "tickSize": -5, "labelPadding": 11, "titlePadding": 14, "titleY": 266}},
    "color": {"field": "series", "type": "nominal",
      "scale": {"domain": ["Fibre PDH OFF, Fibre Peigne OFF", "Fibre PDH OFF, Fibre Peigne ON", "Fibre PDH ON, Fibre Peigne ON"], "range": ["#008080", "#ff8c00", "#800080"]},
      "legend": {"orient": "none", "legendX": 357, "legendY": 4, "title": null, "symbolType": "M -1.8 0 L 10.4 0", "symbolSize": 100, "symbolStrokeWidth": 3, "labelFont": "DejaVu Sans", "labelFontSize": 15.5, "labelColor": "black", "labelOffset": 56, "labelLimit": 0, "rowPadding": 13, "padding": 10, "strokeColor": "#444", "fillColor": "white", "cornerRadius": 0}}
  }
},
{
  "data": {"values": [{"label": "RBW = 30 Hz", "freq": 1122, "power": -46.1}]},
  "mark": {"type": "text", "fontSize": 21, "font": "DejaVu Sans", "color": "black", "align": "center", "baseline": "middle"},
  "encoding": {
    "x": {"field": "freq", "type": "quantitative",
      "axis": {"orient": "top", "values": [-1500, -1000, -500, 0, 500, 1000, 1500], "labels": false, "title": null, "grid": false, "domain": true, "ticks": true, "tickSize": -5}},
    "y": {"field": "power", "type": "quantitative"},
    "text": {"field": "label"}
  }
}
],
"resolve": {"axis": {"x": "independent"}}
}
